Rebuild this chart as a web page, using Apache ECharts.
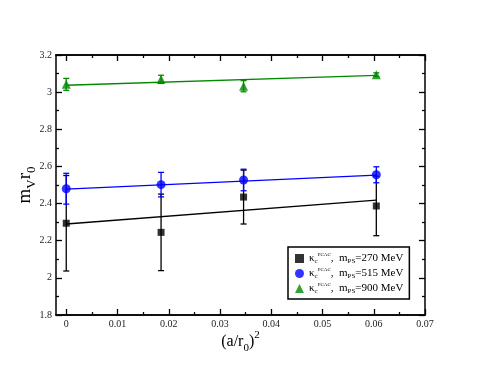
<!DOCTYPE html>
<html>
<head>
<meta charset="utf-8">
<script src="https://cdn.jsdelivr.net/npm/echarts@6/dist/echarts.min.js"></script>
<style>
  html, body { margin: 0; padding: 0; background: #fff; }
  #chart { width: 479px; height: 370px; }
</style>
</head>
<body>
<div id="chart"></div>
<script>
// lattice spacing (a/r0)^2
var xs = [0, 0.0185, 0.0346, 0.0605]

// m_V r0 and errors, per pion mass
var y270 = [2.294, 2.245, 2.435, 2.387]
var e270 = [0.257, 0.206, 0.145, 0.16]
var y515 = [2.48, 2.502, 2.527, 2.555]
var e515 = [0.083, 0.066, 0.058, 0.043]
var y900 = [3.042, 3.069, 3.032, 3.094]
var e900 = [0.032, 0.022, 0.03, 0.01]

// linear fits: [x, y] at both ends
var fit270 = [[0, 2.29], [0.0605, 2.419]]
var fit515 = [[0, 2.478], [0.0605, 2.553]]
var fit900 = [[0, 3.037], [0.0605, 3.09]]

// tick values of the x axis
var xMajor = [0, 0.01, 0.02, 0.03, 0.04, 0.05, 0.06, 0.07]
var xMinor = [0.005, 0.015, 0.025, 0.035, 0.045, 0.055, 0.065]

var masses = ['270', '515', '900']
var colors = ['#000000', '#0000ff', '#008a00']
var symbols = ['rect', 'circle', 'triangle']
var sizes = [7, 9, 9]
var ys = [y270, y515, y900]
var es = [e270, e515, e900]
var fits = [fit270, fit515, fit900]

var serif = 'Liberation Serif'

function pts (y, e) {
  return xs.map(function (x, i) { return [x, y[i], e[i]] })
}

function errBar (params, api) {
  var x = api.value(0)
  var y = api.value(1)
  var e = api.value(2)
  var lo = api.coord([x, y - e])
  var hi = api.coord([x, y + e])
  var st = { stroke: api.visual('color'), lineWidth: 1.3 }
  return {
    type: 'group',
    children: [
      { type: 'line', shape: { x1: lo[0], y1: lo[1], x2: hi[0], y2: hi[1] }, style: st },
      { type: 'line', shape: { x1: lo[0] - 3, y1: lo[1], x2: lo[0] + 3, y2: lo[1] }, style: st },
      { type: 'line', shape: { x1: hi[0] - 3, y1: hi[1], x2: hi[0] + 3, y2: hi[1] }, style: st }
    ]
  }
}

var series = []
masses.forEach(function (m, k) {
  series.push({
    type: 'line',
    data: fits[k],
    showSymbol: false,
    lineStyle: { color: colors[k], width: 1.3 },
    itemStyle: { color: colors[k] },
    silent: true,
    z: 2
  })
  series.push({
    type: 'custom',
    data: pts(ys[k], es[k]),
    renderItem: errBar,
    itemStyle: { color: colors[k] },
    z: 3
  })
  series.push({
    name: 'k' + m,
    type: 'scatter',
    data: pts(ys[k], es[k]),
    symbol: symbols[k],
    symbolSize: sizes[k],
    itemStyle: { color: colors[k] },
    z: 4
  })
})

var tickStyle = { color: '#000', width: 1.3 }
var lineStyle = { show: true, onZero: false, lineStyle: { color: '#000', width: 1.5 } }

function xAxisOf (pos, ticks, len, labels) {
  return {
    type: 'value', position: pos, min: -0.002, max: 0.07,
    axisLine: lineStyle,
    axisTick: { show: true, inside: true, length: len, lineStyle: tickStyle, customValues: ticks },
    axisLabel: labels
      ? { customValues: xMajor, color: '#222', fontFamily: serif, fontSize: 10, margin: 4 }
      : { show: false },
    splitLine: { show: false }
  }
}

var bottom = xAxisOf('bottom', xMajor, 6, true)
bottom.name = '{t|(a/r}{sb|0}{t|)}{sp|2}'
bottom.nameLocation = 'middle'
bottom.nameGap = 15
bottom.nameMoveOverlap = false
bottom.nameTextStyle = {
  verticalAlign: 'top',
  rich: {
    t: { fontFamily: serif, fontSize: 16, color: '#000', lineHeight: 24 },
    sb: { fontFamily: serif, fontSize: 11, color: '#000', verticalAlign: 'bottom', lineHeight: 11 },
    sp: { fontFamily: serif, fontSize: 11, color: '#000', verticalAlign: 'top', lineHeight: 11 }
  }
}

var myChart = echarts.init(document.getElementById('chart'))
myChart.setOption({
  animation: false,
  backgroundColor: '#fff',
  grid: { left: 56, right: 54, top: 55, bottom: 55 },
  legend: {
    data: ['k270', 'k515', 'k900'],
    orient: 'vertical',
    left: 288,
    top: 247,
    padding: [5, 6, 4, 7],
    itemGap: 2,
    itemWidth: 9,
    itemHeight: 9,
    borderColor: '#000',
    borderWidth: 1.5,
    backgroundColor: '#fff',
    formatter: function (name) {
      return '{t|κ}{sb|c}{sp|PCAC}{t|,  m}{sb|PS}{t|=' + name.slice(1) + ' MeV}'
    },
    textStyle: {
      rich: {
        t: { fontFamily: serif, fontSize: 11, color: '#000', lineHeight: 13 },
        sb: { fontFamily: serif, fontSize: 7, color: '#000', verticalAlign: 'bottom', lineHeight: 7 },
        sp: { fontFamily: serif, fontSize: 5, color: '#000', verticalAlign: 'top', lineHeight: 5 }
      }
    }
  },
  xAxis: [
    bottom,
    xAxisOf('top', xMajor, 6, false),
    xAxisOf('bottom', xMinor, 3, false),
    xAxisOf('top', xMinor, 3, false)
  ],
  yAxis: [
    {
      type: 'value', position: 'left', min: 1.8, max: 3.2, interval: 0.2,
      axisLine: lineStyle,
      axisTick: { show: true, inside: true, length: 6, lineStyle: tickStyle },
      minorTick: { show: true, splitNumber: 2, length: 3, lineStyle: tickStyle },
      axisLabel: {
        color: '#222', fontFamily: serif, fontSize: 10, margin: 4,
        formatter: function (v) { return String(Math.round(v * 10) / 10) }
      },
      splitLine: { show: false },
      name: '{t|m}{sb|V}{t|r}{sb|0}',
      nameLocation: 'middle',
      nameRotate: 90,
      nameGap: 18,
      nameMoveOverlap: false,
      nameTextStyle: {
        rich: {
          t: { fontFamily: serif, fontSize: 19, color: '#000', lineHeight: 26 },
          sb: { fontFamily: serif, fontSize: 13, color: '#000', verticalAlign: 'bottom', lineHeight: 13 }
        }
      }
    },
    {
      type: 'value', position: 'right', min: 1.8, max: 3.2, interval: 0.2,
      axisLine: lineStyle,
      axisTick: { show: true, inside: true, length: 6, lineStyle: tickStyle },
      minorTick: { show: true, splitNumber: 2, length: 3, lineStyle: tickStyle },
      axisLabel: { show: false },
      splitLine: { show: false }
    }
  ],
  series: series
})
</script>
</body>
</html>
